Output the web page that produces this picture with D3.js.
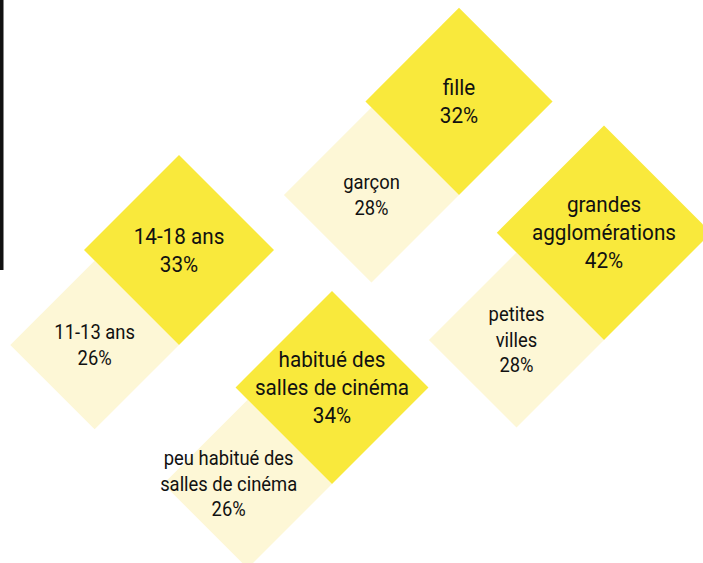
<!DOCTYPE html>
<html>
<head>
<meta charset="utf-8">
<script src="https://cdn.jsdelivr.net/npm/d3@7"></script>
<style>
  body { margin: 0; background: #fff; }
  svg text { font-family: "Roboto", "Noto Sans", sans-serif; fill: #111; }
</style>
</head>
<body>
<div id="chart"></div>
<script>
// each pair: the larger share (bright diamond) and the smaller one (pale diamond)
var highLabels = [["14-18 ans"], ["fille"], ["grandes", "agglomérations"], ["habitué des", "salles de cinéma"]];
var highValues = [33, 32, 42, 34];
var lowLabels = [["11-13 ans"], ["garçon"], ["petites", "villes"], ["peu habitué des", "salles de cinéma"]];
var lowValues = [26, 28, 28, 26];

(function() {
  var width = 703, height = 563;

  var svg = d3.select("#chart")
    .append("svg")
    .attr("width", width)
    .attr("height", height);

  // where the bright diamond's bottom corner meets the pale diamond's right corner
  var anchors = [[179, 345], [459, 195], [604, 340], [332, 484]];
  // small nudge of the pale label for the last pair
  var lowLabelShift = [0, 0, 0, -19];

  var brightColor = "#f9e93c",
      paleColor = "#fdf7d6";

  // area of the diamond follows the value -> half diagonal on a sqrt scale
  var halfDiag = d3.scaleSqrt().domain([0, 42]).range([0, 107.2]);

  var pairs = highValues.map(function(v, i) {
    return {
      high: { label: highLabels[i], value: v },
      low: { label: lowLabels[i], value: lowValues[i] },
      anchor: anchors[i],
      shift: lowLabelShift[i]
    };
  });

  // thin black rule on the left edge
  svg.append("rect")
    .attr("x", 0).attr("y", 0)
    .attr("width", 3.5).attr("height", 270)
    .attr("fill", "#111");

  function diamond(cx, cy, h) {
    return "M" + cx + "," + (cy - h) + "L" + (cx + h) + "," + cy +
      "L" + cx + "," + (cy + h) + "L" + (cx - h) + "," + cy + "Z";
  }

  var g = svg.selectAll("g.pair")
    .data(pairs)
    .enter().append("g")
    .attr("class", "pair");

  // pale diamond (smaller value), sits left of the anchor
  g.append("path")
    .attr("fill", paleColor)
    .attr("d", function(d) {
      var h = halfDiag(d.low.value);
      return diamond(d.anchor[0] - h, d.anchor[1], h);
    });

  // bright diamond (larger value), sits above the anchor
  g.append("path")
    .attr("fill", brightColor)
    .attr("d", function(d) {
      var h = halfDiag(d.high.value);
      return diamond(d.anchor[0], d.anchor[1] - h, h);
    });

  // squeeze Roboto a bit to get the condensed look of the original
  function addLabel(sel, lines, cx, cy, size, lineH) {
    var n = lines.length;
    var t = sel.append("text")
      .attr("text-anchor", "middle")
      .attr("transform", "translate(" + cx + "," + cy + ") scale(0.92,1)")
      .style("font-size", size + "px");
    lines.forEach(function(line, k) {
      t.append("tspan")
        .attr("x", 0)
        .attr("y", (k - (n - 1) / 2) * lineH + size * 0.34)
        .text(line);
    });
  }

  g.each(function(d) {
    var sel = d3.select(this);
    var hh = halfDiag(d.high.value),
        hl = halfDiag(d.low.value);
    addLabel(sel, d.high.label.concat([d.high.value + "%"]),
      d.anchor[0], d.anchor[1] - hh, 22.5, 28);
    addLabel(sel, d.low.label.concat([d.low.value + "%"]),
      d.anchor[0] - hl + d.shift, d.anchor[1], 20, 25.5);
  });
})();
</script>
</body>
</html>
